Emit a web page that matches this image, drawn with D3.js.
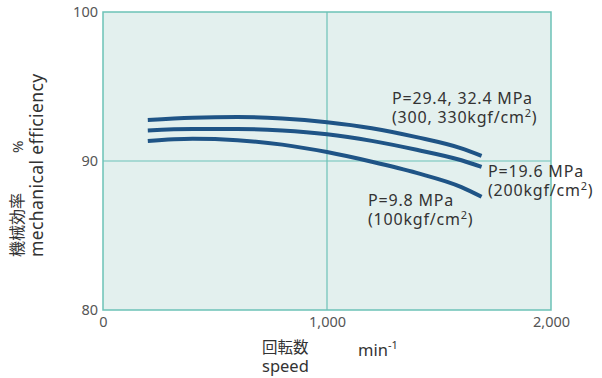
<!DOCTYPE html>
<html>
<head>
<meta charset="utf-8">
<script src="https://cdn.jsdelivr.net/npm/d3@7"></script>
<style>
  body { margin: 0; background: #fff; }
  text { font-family: "Noto Sans", "Noto Sans CJK JP", sans-serif; fill: #333; }
  .tick text { fill: #555; font-size: 14.5px; }
</style>
</head>
<body>
<svg id="chart" width="602" height="378"></svg>
<script>
const speeds = [200, 400, 600, 800, 1000, 1200, 1400, 1600, 1690];
const eff294 = [92.75, 92.9, 92.95, 92.85, 92.6, 92.2, 91.6, 90.85, 90.35];
const eff196 = [92.05, 92.15, 92.15, 92.05, 91.8, 91.35, 90.75, 90.05, 89.6];
const eff98  = [91.35, 91.5, 91.4, 91.1, 90.6, 89.95, 89.2, 88.25, 87.6];
const xTicks = [0, 1000, 2000];
const yTicks = [80, 90, 100];

const svg = d3.select('#chart');
const margin = {top: 12, right: 51, bottom: 68, left: 103};
const width = 602, height = 378;

const x = d3.scaleLinear().domain([0, 2000]).range([margin.left, width - margin.right]);
const y = d3.scaleLinear().domain([80, 100]).range([height - margin.bottom, margin.top]);

// plot background
svg.append('rect')
  .attr('x', x(0)).attr('y', y(100))
  .attr('width', x(2000) - x(0)).attr('height', y(80) - y(100))
  .attr('fill', '#e3f0ee')
  .attr('stroke', '#6cc2b7').attr('stroke-width', 1.5);

// grid lines
svg.append('line')
  .attr('x1', x(1000)).attr('x2', x(1000)).attr('y1', y(100)).attr('y2', y(80))
  .attr('stroke', '#6cc2b7').attr('stroke-width', 1.2);
svg.append('line')
  .attr('x1', x(0)).attr('x2', x(2000)).attr('y1', y(90)).attr('y2', y(90))
  .attr('stroke', '#6cc2b7').attr('stroke-width', 1.2);

// axes (labels only)
const yAxis = svg.append('g')
  .attr('transform', `translate(${x(0) - 5}, 0)`)
  .call(d3.axisLeft(y).tickValues(yTicks).tickSize(0).tickPadding(0));
yAxis.select('.domain').remove();

const xAxis = svg.append('g')
  .attr('transform', `translate(0, ${y(80) + 7})`)
  .call(d3.axisBottom(x).tickValues(xTicks).tickSize(0).tickPadding(0).tickFormat(d3.format(',')));
xAxis.select('.domain').remove();
xAxis.selectAll('.tick text').attr('dy', '0.71em');

// curves
const line = d3.line()
  .x((d, i) => x(speeds[i]))
  .y(d => y(d))
  .curve(d3.curveMonotoneX);

svg.selectAll('path.line')
  .data([eff294, eff196, eff98])
  .join('path')
    .attr('class', 'line')
    .attr('d', d => line(d))
    .attr('fill', 'none')
    .attr('stroke', '#1f5486')
    .attr('stroke-width', 4);

// curve labels, one text per line
function label(tx, ty, first, second) {
  svg.append('text').attr('x', tx).attr('y', ty)
    .style('font-size', '16px').style('letter-spacing', '0.8px')
    .text(first);
  const t = svg.append('text').attr('x', tx).attr('y', ty + 19)
    .style('font-size', '16px').style('letter-spacing', '0.8px');
  t.append('tspan').text(second);
  t.append('tspan').attr('dy', -6).style('font-size', '11px').text('2');
  t.append('tspan').attr('dy', 6).text(')');
}
label(392, 104, 'P=29.4, 32.4 MPa', '(300, 330kgf/cm');
label(488, 177, 'P=19.6 MPa', '(200kgf/cm');
label(368, 206, 'P=9.8 MPa', '(100kgf/cm');

// y axis title
svg.append('text')
  .attr('transform', 'translate(23, 257) rotate(-90)')
  .style('font-size', '16px')
  .text('機械効率');
svg.append('text')
  .attr('transform', 'translate(23, 153) rotate(-90)')
  .style('font-size', '15px')
  .text('%');
svg.append('text')
  .attr('transform', 'translate(43, 257) rotate(-90)')
  .style('font-size', '17.5px').style('letter-spacing', '0.4px')
  .text('mechanical efficiency');

// x axis title
svg.append('text').attr('x', 262).attr('y', 353).style('font-size', '15.5px').text('回転数');
svg.append('text').attr('x', 262).attr('y', 372).style('font-size', '16.5px').text('speed');
const unit = svg.append('text').attr('x', 358).attr('y', 356).style('font-size', '16.5px');
unit.append('tspan').text('min');
unit.append('tspan').attr('dy', -7).style('font-size', '11px').text('-1');
</script>
</body>
</html>
